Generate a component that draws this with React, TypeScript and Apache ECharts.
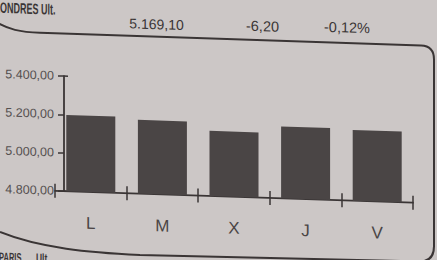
import React, { useEffect, useRef } from "react";
import * as echarts from "echarts";

const categories = ["L", "M", "X", "J", "V"];
const closeValues = [5198, 5185, 5140, 5175.3, 5169.1];
const yMin = 4800;
const yMax = 5400;
const yStep = 200;
const headerTitle = "LONDRES Ult.";
const headerLast = "5.169,10";
const headerChange = "-6,20";
const headerPct = "-0,12%";
const footerTitle = "PARIS";
const footerSub = "Ult.";

const fmt = (v: number) => {
  const [i, d] = v.toFixed(2).split(".");
  return i.replace(/\B(?=(\d{3})+(?!\d))/g, ".") + "," + d;
};

const FRAME_D =
  "M -4 22 C 8 29 20 31.5 40 31.5 L 421 31.5 Q 434 31.5 434 45 L 434 232 Q 434 247 420 247.5 L 140 250.4 C 90 249.5 40 247 0 232";

let registered = false;

export default function App() {
  const ref = useRef<HTMLDivElement>(null);
  useEffect(() => {
    if (!ref.current) return;
    if (!registered) {
      echarts.graphic.registerShape("lframe", echarts.graphic.extendPath(FRAME_D, {}) as any);
      registered = true;
    }
    const chart = echarts.init(ref.current, null, { renderer: "svg" });
    const ink = "#3a3535";
    const font = "Liberation Sans, Arial, sans-serif";
    chart.setOption({
      animation: false,
      grid: [
        { left: 55, right: 24, top: 74, bottom: 71 },
        { left: 55, right: 24, top: 74, bottom: 71 },
      ],
      xAxis: [
        {
          type: "category",
          gridIndex: 0,
          data: categories,
          axisLine: { lineStyle: { color: ink, width: 1.8 } },
          axisTick: { show: true, length: 7, lineStyle: { color: ink, width: 1.5 } },
          axisLabel: { color: "#4a4545", fontSize: 17, fontFamily: font, margin: 23 },
        },
        {
          type: "category",
          gridIndex: 1,
          data: categories,
          axisLine: { show: false },
          axisTick: { show: true, inside: true, length: 7, lineStyle: { color: ink, width: 1.5 } },
          axisLabel: { show: false },
        },
      ],
      yAxis: [
        {
          type: "value",
          gridIndex: 0,
          min: yMin,
          max: yMax,
          interval: yStep,
          offset: -9,
          axisLine: { show: true, lineStyle: { color: ink, width: 1.8 } },
          axisTick: { show: true, length: 6, lineStyle: { color: ink, width: 1.5 } },
          splitLine: { show: false },
          axisLabel: { color: "#555050", fontSize: 12.5, fontFamily: font, margin: 10, formatter: fmt },
        },
        {
          type: "value",
          gridIndex: 1,
          min: yMin,
          max: yMax,
          interval: yMax - yMin,
          offset: -9,
          axisLine: { show: false },
          axisTick: { show: true, inside: true, length: 4, lineStyle: { color: ink, width: 1.5 } },
          splitLine: { show: false },
          axisLabel: { show: false },
        },
      ],
      series: [
        {
          type: "bar",
          xAxisIndex: 0,
          yAxisIndex: 0,
          data: closeValues,
          barWidth: 49,
          itemStyle: { color: "#4a4545" },
        },
      ],
      graphic: [
        {
          type: "lframe",
          x: 0,
          y: 0,
          z: -1,
          style: { fill: "none", stroke: ink, lineWidth: 2 },
        },
        {
          type: "text",
          x: -5.5,
          y: 0.5,
          scaleX: 0.6,
          style: { text: headerTitle, font: `bold 15px ${font}`, fill: ink, textVerticalAlign: "top" },
        },
        {
          type: "text",
          x: 156.5,
          y: 19,
          style: { text: headerLast, font: `14px ${font}`, fill: ink, textAlign: "center", textVerticalAlign: "middle" },
        },
        {
          type: "text",
          x: 262.5,
          y: 17.5,
          style: { text: headerChange, font: `14.5px ${font}`, fill: ink, textAlign: "center", textVerticalAlign: "middle" },
        },
        {
          type: "text",
          x: 347,
          y: 16,
          style: { text: headerPct, font: `14.5px ${font}`, fill: ink, textAlign: "center", textVerticalAlign: "middle" },
        },
        {
          type: "text",
          x: -1,
          y: 250,
          scaleX: 0.58,
          style: { text: footerTitle, font: `bold 13px ${font}`, fill: ink, textVerticalAlign: "top" },
        },
        {
          type: "text",
          x: 36,
          y: 250,
          scaleX: 0.65,
          style: { text: footerSub, font: `bold 13px ${font}`, fill: ink, textVerticalAlign: "top" },
        },
      ],
    });
    return () => chart.dispose();
  }, []);
  return (
    <div
      style={{
        position: "fixed",
        left: 0,
        top: 0,
        width: 437,
        height: 260,
        overflow: "hidden",
        background: "#ccc7c6",
      }}
    >
      <div
        style={{
          position: "absolute",
          left: 0,
          top: 0,
          width: 437,
          height: 260,
          transform: "skewY(1.9deg)",
          transformOrigin: "0 0",
        }}
      >
        <div ref={ref} style={{ width: 437, height: 260 }} />
      </div>
    </div>
  );
}
